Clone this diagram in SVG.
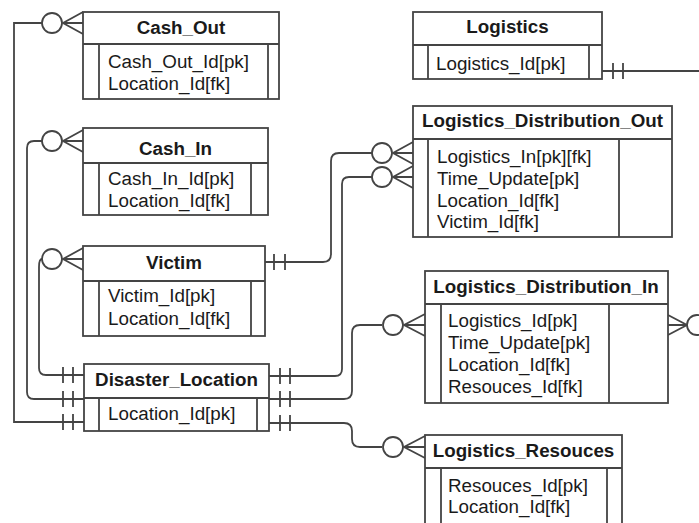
<svg xmlns="http://www.w3.org/2000/svg" width="699" height="523" viewBox="0 0 699 523">
  <style>
    .box { fill: #ffffff; stroke: #444444; stroke-width: 1.8; }
    .ln { fill: none; stroke: #444444; stroke-width: 1.8; }
    .ring { fill: #ffffff; stroke: #444444; stroke-width: 1.8; }
    .ttl { font-family: "Liberation Sans", Arial, sans-serif; font-size: 18.8px; font-weight: bold; fill: #1a1a1a; text-anchor: middle; }
    .att { font-family: "Liberation Sans", Arial, sans-serif; font-size: 18.8px; fill: #1a1a1a; }
  </style>
  <rect width="699" height="523" fill="#ffffff"/>

  <!-- relationships -->
  <g id="connectors">
    <!-- Cash_Out to Disaster_Location -->
    <path class="ln" d="M42 23 H14 V422 H84"/>
    <path class="ln" d="M83 12 L63 23 L83 34 M63 23 H83"/>
    <circle class="ring" cx="52" cy="23" r="10"/>
    <path class="ln" d="M63 414 V430 M73 414 V430"/>

    <!-- Cash_In to Disaster_Location -->
    <path class="ln" d="M42 141 H34 Q27 141 27 148 V392 Q27 399 34 399 H84"/>
    <path class="ln" d="M83 130 L63 141 L83 152 M63 141 H83"/>
    <circle class="ring" cx="52" cy="141" r="10"/>
    <path class="ln" d="M63 391 V407 M73 391 V407"/>

    <!-- Victim to Disaster_Location -->
    <path class="ln" d="M42 259 Q39 259 39 267 V368 Q39 375 46 375 H84"/>
    <path class="ln" d="M83 248 L63 259 L83 270 M63 259 H83"/>
    <circle class="ring" cx="52" cy="259" r="10"/>
    <path class="ln" d="M63 367 V383 M73 367 V383"/>

    <!-- Victim to Logistics_Distribution_Out -->
    <path class="ln" d="M265 262 H323 Q331 262 331 254 V161 Q331 153 339 153 H372"/>
    <path class="ln" d="M274 254 V270 M285 254 V270"/>
    <path class="ln" d="M413 142 L393 153 L413 164 M393 153 H413"/>
    <circle class="ring" cx="382" cy="153" r="10"/>

    <!-- Disaster_Location to Logistics_Distribution_Out -->
    <path class="ln" d="M269 376 H335 Q342 376 342 369 V184 Q342 177 349 177 H372"/>
    <path class="ln" d="M280 368 V384 M290 368 V384"/>
    <path class="ln" d="M413 166 L393 177 L413 188 M393 177 H413"/>
    <circle class="ring" cx="382" cy="177" r="10"/>

    <!-- Disaster_Location to Logistics_Distribution_In -->
    <path class="ln" d="M269 399 H344 Q352 399 352 391 V333 Q352 325 360 325 H382"/>
    <path class="ln" d="M280 391 V407 M290 391 V407"/>
    <path class="ln" d="M425 314 L404 325 L425 336 M404 325 H425"/>
    <circle class="ring" cx="393" cy="325" r="10"/>

    <!-- Disaster_Location to Logistics_Resouces -->
    <path class="ln" d="M269 423 H344 Q352 423 352 431 V439 Q352 447 360 447 H382"/>
    <path class="ln" d="M280 415 V431 M290 415 V431"/>
    <path class="ln" d="M425 436 L404 447 L425 458 M404 447 H425"/>
    <circle class="ring" cx="393" cy="447" r="10"/>

    <!-- Logistics outgoing -->
    <path class="ln" d="M602 71 H699"/>
    <path class="ln" d="M613 63 V79 M623 63 V79"/>

    <!-- Logistics_Distribution_In outgoing -->
    <path class="ln" d="M668 315 L687 325 L668 335 M668 325 H687"/>
    <circle class="ring" cx="697" cy="325" r="10"/>
  </g>

  <g id="cash_out">
    <rect class="box" x="83" y="12" width="196" height="87"/>
    <path class="ln" d="M83 44 H279 M99 44 V99 M268 44 V99"/>
    <text class="ttl" x="181" y="34">Cash_Out</text>
    <text class="att" x="108" y="68">Cash_Out_Id[pk]</text>
    <text class="att" x="108" y="90">Location_Id[fk]</text>
  </g>

  <g id="cash_in">
    <rect class="box" x="83" y="128" width="185" height="87"/>
    <path class="ln" d="M83 163 H268 M99 163 V215 M251 163 V215"/>
    <text class="ttl" x="175.5" y="155">Cash_In</text>
    <text class="att" x="108" y="185">Cash_In_Id[pk]</text>
    <text class="att" x="108" y="207">Location_Id[fk]</text>
  </g>

  <g id="victim">
    <rect class="box" x="83" y="246" width="182" height="90"/>
    <path class="ln" d="M83 281 H265 M99 281 V336 M251 281 V336"/>
    <text class="ttl" x="174" y="269">Victim</text>
    <text class="att" x="108" y="302">Victim_Id[pk]</text>
    <text class="att" x="108" y="325">Location_Id[fk]</text>
  </g>

  <g id="disaster_location">
    <rect class="box" x="84" y="364" width="185" height="67"/>
    <path class="ln" d="M84 398 H269 M99 398 V431 M257 398 V431"/>
    <text class="ttl" x="176.5" y="386">Disaster_Location</text>
    <text class="att" x="108" y="420">Location_Id[pk]</text>
  </g>

  <g id="logistics">
    <rect class="box" x="413" y="12" width="189" height="67"/>
    <path class="ln" d="M413 45 H602 M428 45 V79 M589 45 V79"/>
    <text class="ttl" x="507.5" y="33">Logistics</text>
    <text class="att" x="436" y="70">Logistics_Id[pk]</text>
  </g>

  <g id="logistics_distribution_out">
    <rect class="box" x="413" y="106" width="259" height="131"/>
    <path class="ln" d="M413 139 H672 M428 139 V237 M619 139 V237"/>
    <text class="ttl" x="542.5" y="127">Logistics_Distribution_Out</text>
    <text class="att" x="437" y="163">Logistics_In[pk][fk]</text>
    <text class="att" x="437" y="185">Time_Update[pk]</text>
    <text class="att" x="437" y="207">Location_Id[fk]</text>
    <text class="att" x="437" y="228">Victim_Id[fk]</text>
  </g>

  <g id="logistics_distribution_in">
    <rect class="box" x="425" y="271" width="243" height="132"/>
    <path class="ln" d="M425 304 H668 M441 304 V403 M609 304 V403"/>
    <text class="ttl" x="546" y="293">Logistics_Distribution_In</text>
    <text class="att" x="448" y="327">Logistics_Id[pk]</text>
    <text class="att" x="448" y="349">Time_Update[pk]</text>
    <text class="att" x="448" y="371">Location_Id[fk]</text>
    <text class="att" x="448" y="393">Resouces_Id[fk]</text>
  </g>

  <g id="logistics_resouces">
    <rect class="box" x="425" y="435" width="197" height="100"/>
    <path class="ln" d="M425 468 H622 M441 468 V535 M607 468 V535"/>
    <text class="ttl" x="523.5" y="457">Logistics_Resouces</text>
    <text class="att" x="448" y="492">Resouces_Id[pk]</text>
    <text class="att" x="448" y="513">Location_Id[fk]</text>
  </g>
</svg>
